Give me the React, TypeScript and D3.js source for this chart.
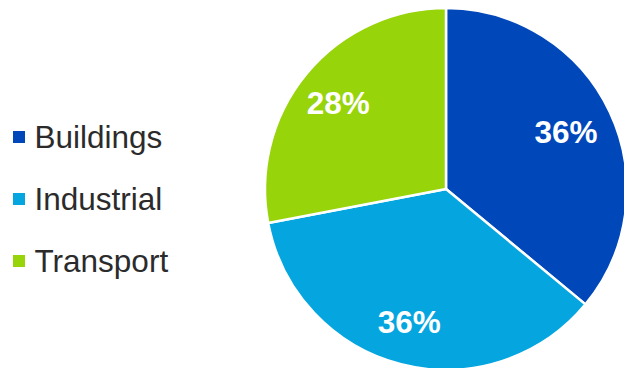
import React from "react";
import * as d3 from "d3";

const categories = ["Buildings", "Industrial", "Transport"];
const values = [36, 36, 28];
const colors = ["#0047BA", "#05A6E0", "#97D40A"];
const labels = ["36%", "36%", "28%"];

const W = 624;
const H = 368;

export default function App() {
  const cx = 446;
  const cy = 189;
  const r = 181;
  const pie = d3.pie<number>().sort(null).value((d) => d)(values);
  const arc = d3.arc<d3.PieArcDatum<number>>().innerRadius(0).outerRadius(r);
  const labelArc = d3.arc<d3.PieArcDatum<number>>().innerRadius(272).outerRadius(0);
  const legendY = d3.scalePoint<string>().domain(categories).range([137, 261]);
  return (
    <svg
      width={W}
      height={H}
      style={{ position: "absolute", left: 0, top: 0, fontFamily: "'Liberation Sans', Arial, sans-serif" }}
    >
      <rect width={W} height={H} fill="#fff" />
      <g transform={`translate(${cx},${cy})`}>
        {pie.map((p, i) => (
          <path key={i} d={arc(p) || ""} fill={colors[i]} stroke="#fff" strokeWidth={2.5} strokeLinejoin="round" />
        ))}
        {pie.map((p, i) => {
          const [x, y] = labelArc.centroid(p);
          return (
            <text key={i} x={x - 3} y={y + 12} textAnchor="middle" fill="#fff" fontWeight="bold" fontSize={31.5}>
              {labels[i]}
            </text>
          );
        })}
      </g>
      {categories.map((c, i) => {
        const y = legendY(c) as number;
        return (
          <g key={c}>
            <rect x={13} y={y - 6} width={12} height={12} fill={colors[i]} />
            <text x={34.5} y={y + 10.5} fontSize={31.5} fill="#2b2b2b">
              {c}
            </text>
          </g>
        );
      })}
    </svg>
  );
}
